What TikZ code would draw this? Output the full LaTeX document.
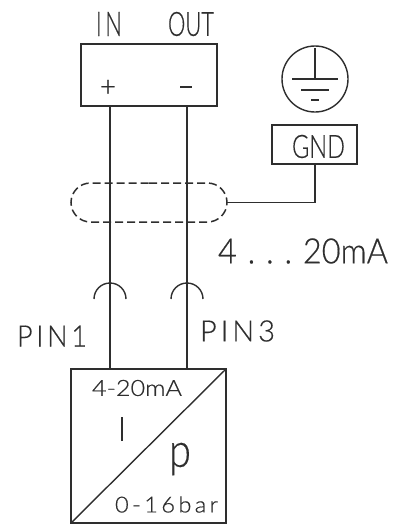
\documentclass[tikz,border=0pt]{standalone}
\usepackage{graphicx}
\usepackage{fontspec}
\setmainfont[FakeBold=0.5]{Lato Light}
\newfontfamily\spaced[LetterSpace=14,FakeBold=0.5]{Lato Light}
\usetikzlibrary{shapes.misc,calc}
\definecolor{ink}{HTML}{2E2E2E}
\newcommand{\fit}[3]{\resizebox{#1pt}{#2pt}{#3}}
\tikzset{
  wire/.style={draw=ink,line width=1.4pt},
  heavy/.style={draw=ink,line width=2.6pt},
  box/.style={draw=ink,line width=1.5pt,rectangle,inner sep=0pt,outer sep=0pt},
  lbl/.style={inner sep=0pt,outer sep=0pt,text=ink},
  shield/.style={draw=ink,line width=1.5pt,dash pattern=on 8pt off 4pt,rounded rectangle,inner sep=0pt,outer sep=0pt,minimum width=156pt,minimum height=39pt}
}
\begin{document}
\begin{tikzpicture}[x=1pt,y=-1pt]
\useasboundingbox (0,0) rectangle (407,525);
% terminal block
\node[box,minimum width=136pt,minimum height=62pt] (term) at (149,75) {};
\node[lbl] (in) at (109,24) {\fit{26}{24}{I\,N}};
\node[lbl] (out) at (191,24) {\fit{46}{24}{OUT}};
\node[lbl] (plus) at (108,88) {\fit{16}{16}{+}};
\node[lbl] (minus) at (186,87) {\fit{12}{1.2}{\rule{10pt}{1pt}}};
% device
\node[box,minimum width=155pt,minimum height=154pt] (dev) at (148.5,446) {};
\draw[wire] (dev.south west) -- (dev.north east);
\node[lbl] (range) at (137,388) {\fit{90}{16}{4-20mA}};
\node[lbl] (i) at (122,429) {\fit{2}{24}{\rule{1pt}{10pt}}};
\node[lbl] (p) at (180,459) {\fit{22}{24}{p}};
\node[lbl] (bar) at (166.5,504.5) {\fit{103}{16}{\spaced 0-16bar}};
% shield
\node[shield] (shield) at (149,202.5) {};
% wires and pin connectors
\coordinate (p1a) at (110,284);
\coordinate (p1b) at (110,299);
\coordinate (p3a) at (187,284);
\coordinate (p3b) at (187,299);
\coordinate (t1) at (term.south -| p1a);
\coordinate (t3) at (term.south -| p3a);
\coordinate (d1) at (dev.north -| p1a);
\coordinate (d3) at (dev.north -| p3a);
\draw[wire] (t1) -- (p1b);
\draw[wire] (t3) -- (p3b);
\draw[heavy] (p1b) -- (d1);
\draw[heavy] (p3b) -- (d3);
\draw[wire] (94,299) arc[start angle=180,end angle=360,radius=16];
\draw[wire] (171,299) arc[start angle=180,end angle=360,radius=16];
\node[lbl] (pin1) at (52,336) {\fit{70}{21}{\spaced PIN1}};
\node[lbl] (pin3) at (237.5,331) {\fit{75}{21}{\spaced PIN3}};
\node[lbl] (ma) at (303,251) {\fit{170}{25}{4\,\,.\,\,.\,\,.\,\,20mA}};
% ground
\node[draw=ink,line width=1.4pt,circle,inner sep=0pt,outer sep=0pt,minimum size=66pt] (earth) at (315,79) {};
\draw[wire] (earth.north)++(0,2) -- (earth.center);
\draw[wire] (292,79) -- (338,79);
\draw[wire] (301,90) -- (329,90);
\draw[wire] (311,100) -- (319,100);
\node[box,minimum width=85pt,minimum height=39pt] (gnd) at (314.5,144.5) {};
\node[lbl] (gndt) at (318.5,146.5) {\fit{53}{23}{GND}};
\draw[wire] (gnd.south -| earth.center) |- (shield.east);
\end{tikzpicture}
\end{document}
